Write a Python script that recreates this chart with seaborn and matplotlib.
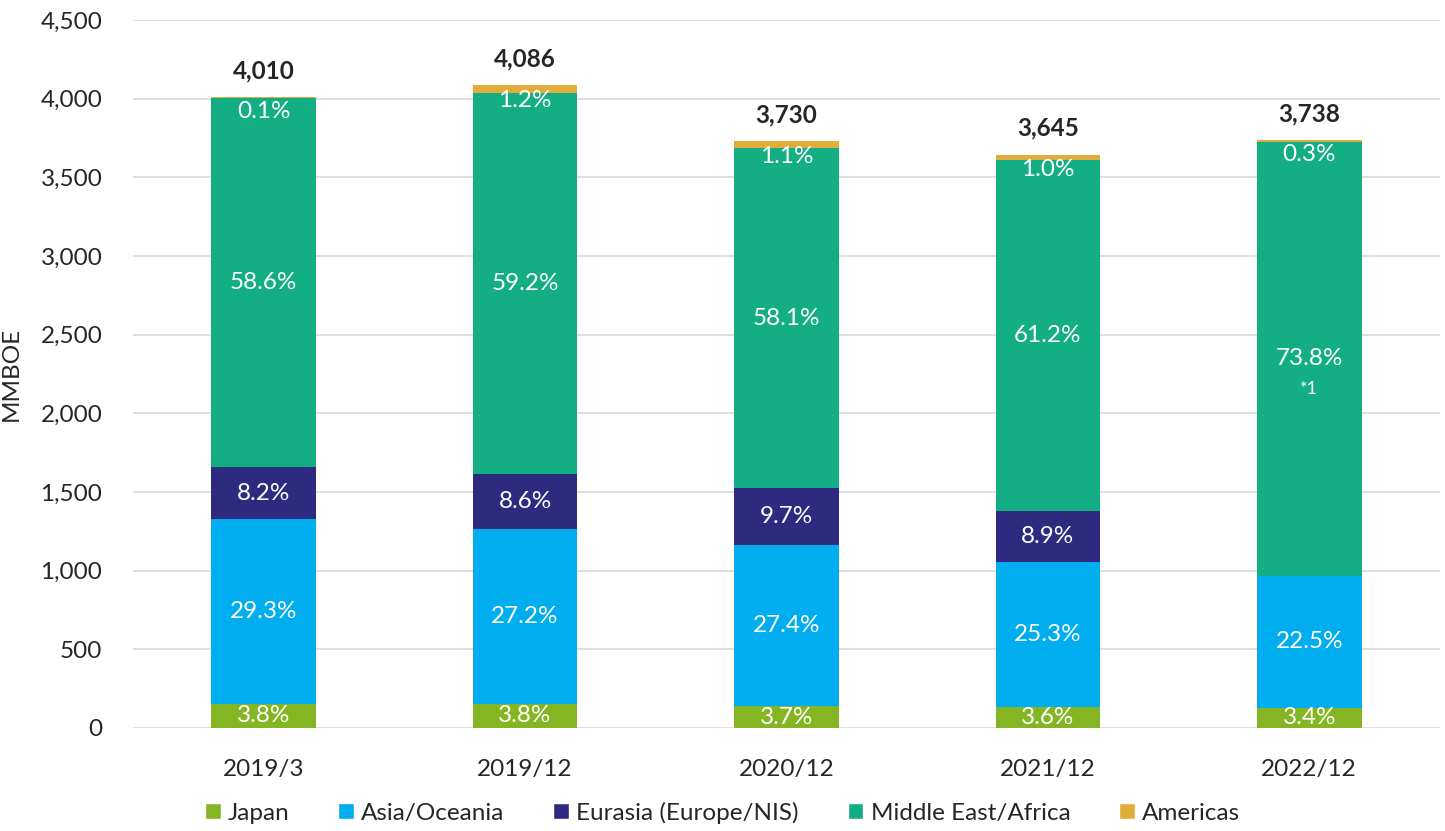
import numpy as np
import pandas as pd
import seaborn as sns
import matplotlib.pyplot as plt
from matplotlib.patches import Patch

# periods and segment sizes (MMBOE)
periods = ['2019/3', '2019/12', '2020/12', '2021/12', '2022/12']
regions = ['Japan', 'Asia/Oceania', 'Eurasia (Europe/NIS)', 'Middle East/Africa', 'Americas']
japan = [152, 155, 138, 131, 127]
asia = [1175, 1111, 1022, 922, 841]
eurasia = [329, 351, 362, 324, 0]
mideast = [2350, 2419, 2167, 2231, 2759]
americas = [4, 49, 41, 36, 11]
totals = ['4,010', '4,086', '3,730', '3,645', '3,738']

pct_japan = ['3.8%', '3.8%', '3.7%', '3.6%', '3.4%']
pct_asia = ['29.3%', '27.2%', '27.4%', '25.3%', '22.5%']
pct_eurasia = ['8.2%', '8.6%', '9.7%', '8.9%', '']
pct_mideast = ['58.6%', '59.2%', '58.1%', '61.2%', '73.8%']
pct_americas = ['0.1%', '1.2%', '1.1%', '1.0%', '0.3%']
notes = ['', '', '', '', '*1']

colors = ['#84B522', '#00AEEF', '#2E2A7F', '#14AE84', '#E0AD3A']

sns.set_style('white')
plt.rcParams['font.family'] = ['Lato', 'DejaVu Sans']
FS = 17.5

df = pd.DataFrame({'period': periods, 'Japan': japan, 'Asia/Oceania': asia,
                   'Eurasia (Europe/NIS)': eurasia, 'Middle East/Africa': mideast,
                   'Americas': americas})
cum = df[regions].cumsum(axis=1)
bottoms = cum.shift(1, axis=1).fillna(0)

fig = plt.figure(figsize=(14.45, 8.31), dpi=100)
ax = fig.add_axes([0.092, 0.124, 0.9045, 0.852])

# draw the cumulative heights from top to bottom so each segment shows
for reg, col in reversed(list(zip(regions, colors))):
    sns.barplot(x=df['period'], y=cum[reg], color=col, width=0.4,
                saturation=1, ax=ax, linewidth=0, zorder=2)

ax.set_ylim(0, 4500)
ax.set_yticks(np.arange(0, 4501, 500))
ax.set_yticklabels([f'{v:,}' for v in range(0, 4501, 500)], fontsize=FS)
ax.tick_params(axis='x', labelsize=FS, pad=22, length=0)
ax.tick_params(axis='y', length=0, pad=22)
ax.yaxis.grid(True, color='#D9D9D9', linewidth=1.2)
ax.set_axisbelow(True)
for s in ax.spines.values():
    s.set_visible(False)
ax.set_xlabel('')
ax.set_ylabel('MMBOE', fontsize=FS, labelpad=8)
ax.yaxis.set_label_coords(-0.085, 0.5)

pcts = [pct_japan, pct_asia, pct_eurasia, pct_mideast]
for i in range(len(periods)):
    for j, reg in enumerate(regions[:4]):
        if pcts[j][i]:
            mid = bottoms[reg][i] + df[reg][i] / 2
            ax.text(i, mid, pcts[j][i], ha='center', va='center',
                    color='white', fontsize=FS, zorder=3)
    top = cum['Americas'][i]
    ax.text(i, top - 95, pct_americas[i], ha='center', va='center',
            color='white', fontsize=FS, zorder=3)
    if notes[i]:
        mid = bottoms['Middle East/Africa'][i] + df['Middle East/Africa'][i] / 2
        ax.text(i, mid - 190, notes[i], ha='center', va='center',
                color='white', fontsize=13, zorder=3)
    ax.annotate(totals[i], (i, top), xytext=(0, 19), textcoords='offset points',
                ha='center', va='center', fontsize=FS, fontweight='bold')

handles = [Patch(facecolor=c, label=r) for r, c in zip(regions, colors)]
fig.legend(handles=handles, loc='center', bbox_to_anchor=(0.5, 0.022), ncol=5,
           frameon=False, fontsize=FS, handlelength=0.65, handleheight=0.65,
           handletextpad=0.3, columnspacing=2.0)

fig.savefig('out.png', dpi=100)
